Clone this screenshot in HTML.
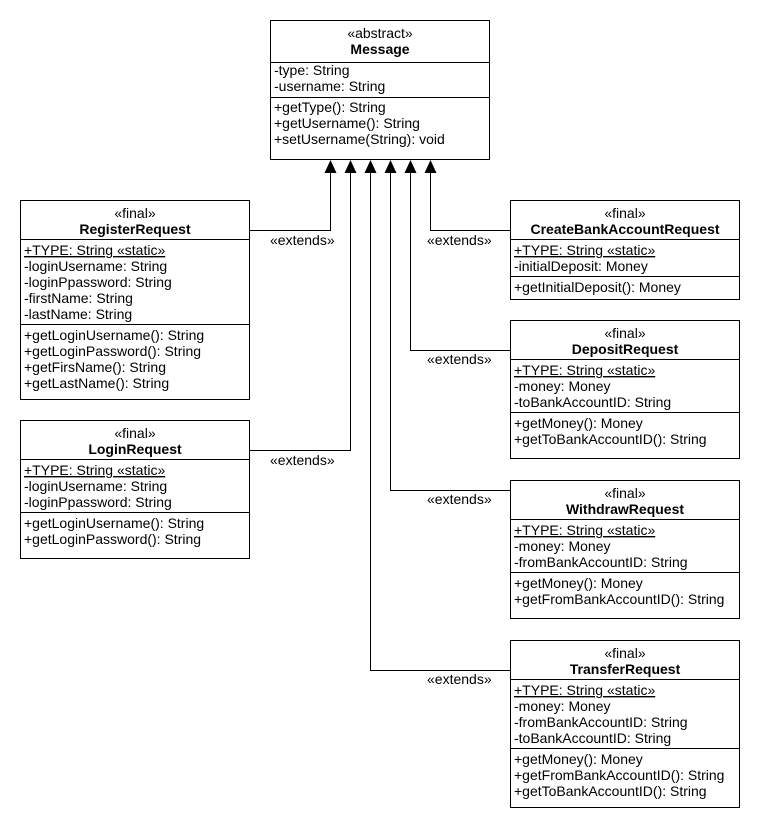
<!DOCTYPE html>
<html><head><meta charset="utf-8"><style>
html,body{margin:0;padding:0;background:#fff;}
svg{display:block;}
text{font-family:"Liberation Sans",Arial,sans-serif;font-size:14px;fill:#000;}
.b{font-weight:bold;}
</style></head><body>
<svg width="760" height="830" viewBox="0 0 760 830" xmlns="http://www.w3.org/2000/svg">
<g fill="none" stroke="#000" stroke-width="1">
<rect x="270.5" y="20.5" width="219" height="139"/>
<line x1="270" y1="62.5" x2="490" y2="62.5"/>
<line x1="270" y1="97.5" x2="490" y2="97.5"/>
<rect x="20.5" y="200.5" width="229" height="199"/>
<line x1="20" y1="239.5" x2="250" y2="239.5"/>
<line x1="20" y1="324.5" x2="250" y2="324.5"/>
<rect x="20.5" y="420.5" width="229" height="138"/>
<line x1="20" y1="459.5" x2="250" y2="459.5"/>
<line x1="20" y1="512.5" x2="250" y2="512.5"/>
<rect x="510.5" y="200.5" width="229" height="99"/>
<line x1="510" y1="239.5" x2="740" y2="239.5"/>
<line x1="510" y1="276.5" x2="740" y2="276.5"/>
<rect x="510.5" y="320.5" width="229" height="138"/>
<line x1="510" y1="359.5" x2="740" y2="359.5"/>
<line x1="510" y1="412.5" x2="740" y2="412.5"/>
<rect x="510.5" y="480.5" width="229" height="138"/>
<line x1="510" y1="519.5" x2="740" y2="519.5"/>
<line x1="510" y1="572.5" x2="740" y2="572.5"/>
<rect x="510.5" y="640.5" width="229" height="167"/>
<line x1="510" y1="679.5" x2="740" y2="679.5"/>
<line x1="510" y1="748.5" x2="740" y2="748.5"/>
<polyline points="250,230.5 330.5,230.5 330.5,172"/>
<polyline points="250,450.5 350.5,450.5 350.5,172"/>
<polyline points="510,230.5 430.5,230.5 430.5,172"/>
<polyline points="510,350.5 410.5,350.5 410.5,172"/>
<polyline points="510,490.5 390.5,490.5 390.5,172"/>
<polyline points="510,670.5 370.5,670.5 370.5,172"/>
</g>
<g fill="#000">
<polygon points="330.5,160 324.5,173 336.5,173"/>
<polygon points="350.5,160 344.5,173 356.5,173"/>
<polygon points="370.5,160 364.5,173 376.5,173"/>
<polygon points="390.5,160 384.5,173 396.5,173"/>
<polygon points="410.5,160 404.5,173 416.5,173"/>
<polygon points="430.5,160 424.5,173 436.5,173"/>
</g>
<text x="380" y="38" text-anchor="middle">«abstract»</text>
<text x="380" y="54" text-anchor="middle" class="b">Message</text>
<text x="274" y="75">-type: String</text>
<text x="274" y="91">-username: String</text>
<text x="274" y="112">+getType(): String</text>
<text x="274" y="128">+getUsername(): String</text>
<text x="274" y="144">+setUsername(String): void</text>
<text x="135" y="218" text-anchor="middle">«final»</text>
<text x="135" y="234" text-anchor="middle" class="b">RegisterRequest</text>
<text x="24" y="255" text-decoration="underline">+TYPE: String «static»</text>
<text x="24" y="271">-loginUsername: String</text>
<text x="24" y="287">-loginPpassword: String</text>
<text x="24" y="303">-firstName: String</text>
<text x="24" y="319">-lastName: String</text>
<text x="24" y="340">+getLoginUsername(): String</text>
<text x="24" y="356">+getLoginPassword(): String</text>
<text x="24" y="372">+getFirsName(): String</text>
<text x="24" y="388">+getLastName(): String</text>
<text x="135" y="438" text-anchor="middle">«final»</text>
<text x="135" y="454" text-anchor="middle" class="b">LoginRequest</text>
<text x="24" y="475" text-decoration="underline">+TYPE: String «static»</text>
<text x="24" y="491">-loginUsername: String</text>
<text x="24" y="507">-loginPpassword: String</text>
<text x="24" y="528">+getLoginUsername(): String</text>
<text x="24" y="544">+getLoginPassword(): String</text>
<text x="625" y="218" text-anchor="middle">«final»</text>
<text x="625" y="234" text-anchor="middle" class="b">CreateBankAccountRequest</text>
<text x="514" y="255" text-decoration="underline">+TYPE: String «static»</text>
<text x="514" y="271">-initialDeposit: Money</text>
<text x="514" y="292">+getInitialDeposit(): Money</text>
<text x="625" y="338" text-anchor="middle">«final»</text>
<text x="625" y="354" text-anchor="middle" class="b">DepositRequest</text>
<text x="514" y="375" text-decoration="underline">+TYPE: String «static»</text>
<text x="514" y="391">-money: Money</text>
<text x="514" y="407">-toBankAccountID: String</text>
<text x="514" y="428">+getMoney(): Money</text>
<text x="514" y="444">+getToBankAccountID(): String</text>
<text x="625" y="498" text-anchor="middle">«final»</text>
<text x="625" y="514" text-anchor="middle" class="b">WithdrawRequest</text>
<text x="514" y="535" text-decoration="underline">+TYPE: String «static»</text>
<text x="514" y="551">-money: Money</text>
<text x="514" y="567">-fromBankAccountID: String</text>
<text x="514" y="588">+getMoney(): Money</text>
<text x="514" y="604">+getFromBankAccountID(): String</text>
<text x="625" y="658" text-anchor="middle">«final»</text>
<text x="625" y="674" text-anchor="middle" class="b">TransferRequest</text>
<text x="514" y="695" text-decoration="underline">+TYPE: String «static»</text>
<text x="514" y="711">-money: Money</text>
<text x="514" y="727">-fromBankAccountID: String</text>
<text x="514" y="743">-toBankAccountID: String</text>
<text x="514" y="764">+getMoney(): Money</text>
<text x="514" y="780">+getFromBankAccountID(): String</text>
<text x="514" y="796">+getToBankAccountID(): String</text>
<text x="270" y="245">«extends»</text>
<text x="270" y="465">«extends»</text>
<text x="427" y="245">«extends»</text>
<text x="427" y="364">«extends»</text>
<text x="427" y="504">«extends»</text>
<text x="427" y="684">«extends»</text>
</svg>
</body></html>
